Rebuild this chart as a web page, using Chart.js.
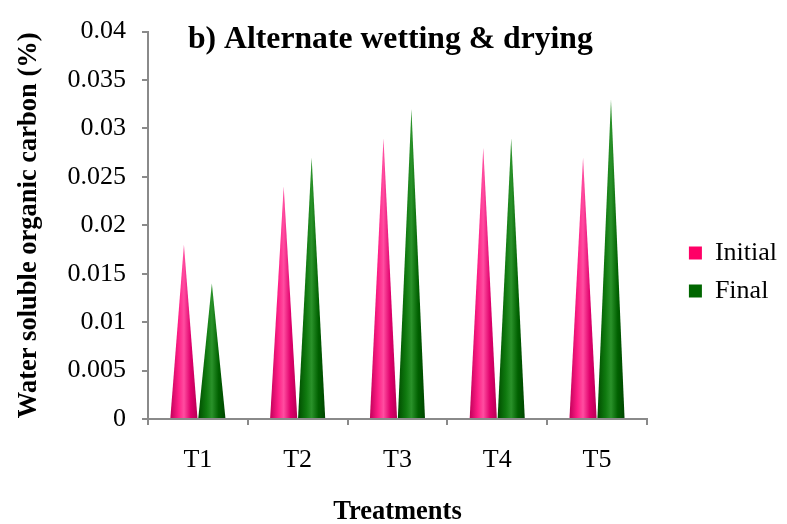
<!DOCTYPE html>
<html lang="en">
<head>
  <meta charset="UTF-8">
  <title>Alternate wetting & drying</title>
  <script src="https://cdn.jsdelivr.net/npm/chart.js"></script>
  <style>
    html, body { margin: 0; padding: 0; background: #fff; }
    .chart-box { position: relative; width: 787px; height: 524px; }
  </style>
</head>
<body>
  <div class="chart-box">
    <canvas id="chart"></canvas>
  </div>
  <script>
    // data
    var categories = ["T1", "T2", "T3", "T4", "T5"];
    var initialValues = [0.018, 0.024, 0.029, 0.028, 0.027];
    var finalValues = [0.014, 0.027, 0.032, 0.029, 0.033];
    var seriesNames = ["Initial", "Final"];
    var yMin = 0, yMax = 0.04, yStep = 0.005;
    var chartTitle = "b) Alternate wetting & drying";
    var yTitle = "Water soluble organic carbon (%)";
    var xTitle = "Treatments";

    var serif = "'Liberation Serif', 'Times New Roman', serif";
    var axisGray = "#8a8a8a";

    // cone shading: dark edge -> light middle -> dark edge
    var coneStops = [
      ["#c2005a", "#ff1f86", "#ff4da0", "#e0006c", "#b80054"],
      ["#004d00", "#0f7a0f", "#2a922a", "#006000", "#004600"]
    ];

    // draw each bar as a cone (triangle) using the bar element's own geometry
    var conePlugin = {
      id: "cones",
      beforeDatasetDraw: function (chart, args) {
        var ctx = chart.ctx;
        var meta = args.meta;
        var stops = coneStops[args.index];
        ctx.save();
        meta.data.forEach(function (bar) {
          var p = bar.getProps(["x", "y", "base", "width"], true);
          var half = p.width / 2;
          var g = ctx.createLinearGradient(p.x - half, 0, p.x + half, 0);
          g.addColorStop(0, stops[0]);
          g.addColorStop(0.3, stops[1]);
          g.addColorStop(0.5, stops[2]);
          g.addColorStop(0.75, stops[3]);
          g.addColorStop(1, stops[4]);
          ctx.fillStyle = g;
          ctx.beginPath();
          ctx.moveTo(p.x - half, p.base);
          ctx.lineTo(p.x, p.y);
          ctx.lineTo(p.x + half, p.base);
          ctx.closePath();
          ctx.fill();
        });
        ctx.restore();
        return false;
      }
    };

    // title sits inside the plot area
    var insideTitle = {
      id: "insideTitle",
      afterDraw: function (chart) {
        var ctx = chart.ctx;
        var area = chart.chartArea;
        ctx.save();
        ctx.font = "bold 31.7px " + serif;
        ctx.fillStyle = "#000";
        ctx.textAlign = "left";
        ctx.textBaseline = "alphabetic";
        ctx.fillText(chartTitle, area.left + 40, area.top + 16);
        ctx.restore();
      }
    };

    var ctx = document.getElementById("chart").getContext("2d");
    var chart = new Chart(ctx, {
      type: "bar",
      data: {
        labels: categories,
        datasets: [{
          label: seriesNames[0],
          data: initialValues,
          backgroundColor: "#ff0066",
          borderWidth: 0
        }, {
          label: seriesNames[1],
          data: finalValues,
          backgroundColor: "#006600",
          borderWidth: 0
        }]
      },
      options: {
        responsive: true,
        maintainAspectRatio: false,
        animation: false,
        categoryPercentage: 0.56,
        barPercentage: 0.97,
        layout: { padding: { top: 20, right: 0, bottom: 0, left: 0 } },
        scales: {
          x: {
            grid: { drawOnChartArea: false, offset: true, tickLength: 6, color: axisGray, lineWidth: 2 },
            border: { color: axisGray, width: 2 },
            ticks: { color: "#000", font: { family: serif, size: 26 }, padding: 20 },
            title: { display: true, text: xTitle, color: "#000", font: { family: serif, size: 26.5, weight: "bold", lineHeight: 0.9 }, padding: { top: 0, bottom: 0 } },
            afterFit: function (scale) { scale.height = 105; }
          },
          y: {
            min: yMin,
            max: yMax,
            grid: { drawOnChartArea: false, tickLength: 6, color: axisGray, lineWidth: 2 },
            border: { color: axisGray, width: 2 },
            ticks: {
              stepSize: yStep,
              color: "#000",
              font: { family: serif, size: 26 },
              padding: 16,
              callback: function (v) { return String(+v.toFixed(3)); }
            },
            title: { display: true, text: yTitle, color: "#000", font: { family: serif, size: 26.5, weight: "bold" }, padding: { top: 13, bottom: 0 } },
            afterFit: function (scale) { scale.width = 148; }
          },
          gap: {
            type: "linear",
            position: "right",
            grid: { display: false },
            border: { display: false },
            ticks: { display: false },
            afterFit: function (scale) { scale.width = 30; }
          }
        },
        plugins: {
          legend: {
            position: "right",
            labels: {
              boxWidth: 13,
              boxHeight: 13,
              padding: 12,
              color: "#000",
              font: { family: serif, size: 26 }
            }
          },
          tooltip: { enabled: false }
        }
      },
      plugins: [conePlugin, insideTitle]
    });
  </script>
</body>
</html>
